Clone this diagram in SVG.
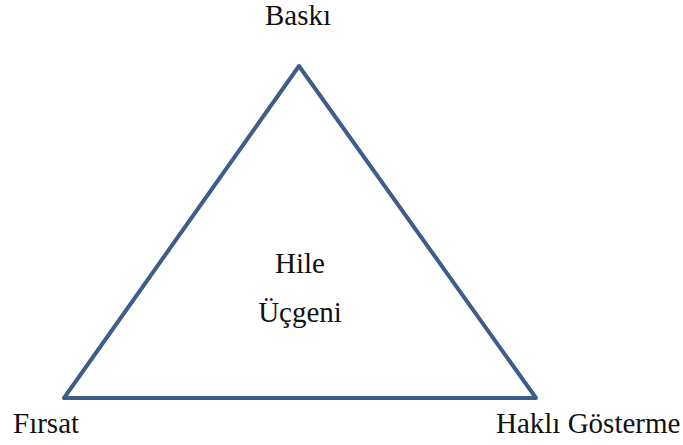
<svg xmlns="http://www.w3.org/2000/svg" width="683" height="445" viewBox="0 0 683 445">
<style>
.lbl{font-size:29px;fill:#111}
.edge{fill:none;stroke:#3d5d8a;stroke-width:4;stroke-linejoin:round}
</style>
<rect width="683" height="445" fill="#fff"/>
<g id="connectors">
<polygon class="edge" points="299,66 64,398 536,398"/>
</g>
<g font-family="'Liberation Serif', 'DejaVu Serif', serif">
<g id="node-baski"><text class="lbl" x="298" y="25" text-anchor="middle">Baskı</text></g>
<g id="node-firsat"><text class="lbl" x="13" y="433">Fırsat</text></g>
<g id="node-hakli"><text class="lbl" x="496" y="433">Haklı Gösterme</text></g>
<g id="node-center">
<text class="lbl" x="300" y="273" text-anchor="middle">Hile</text>
<text class="lbl" x="300" y="322" text-anchor="middle">Üçgeni</text>
</g>
</g>
</svg>
